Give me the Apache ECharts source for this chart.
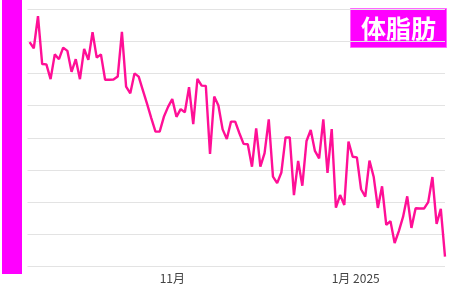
<!DOCTYPE html>
<html>
<head>
<meta charset="utf-8">
<script src="https://cdn.jsdelivr.net/npm/echarts@6/dist/echarts.min.js"></script>
<style>html,body{margin:0;padding:0;background:#fff}#c{width:450px;height:290px}</style>
</head>
<body>
<div id="c"></div>
<script>
const bodyFat = [
  26.97, 26.78, 27.78, 26.29, 26.28, 25.82, 26.59, 26.44, 26.80, 26.70,
  26.05, 26.44, 25.82, 26.76, 26.42, 27.28, 26.49, 26.59, 25.80, 25.80,
  25.81, 25.90, 27.29, 25.59, 25.38, 26.00, 25.90, 25.47, 25.05, 24.61,
  24.19, 24.19, 24.65, 24.96, 25.20, 24.65, 24.89, 24.79, 25.57, 24.42,
  25.83, 25.62, 25.61, 23.50, 25.28, 25.00, 24.26, 23.96, 24.50, 24.50,
  24.14, 23.81, 23.80, 23.10, 24.29, 23.10, 23.52, 24.57, 22.79, 22.59,
  22.92, 24.01, 24.01, 22.22, 23.28, 22.51, 23.90, 24.24, 23.59, 23.36,
  24.57, 22.91, 24.27, 21.83, 22.22, 21.91, 23.88, 23.41, 23.39, 22.40,
  22.17, 23.29, 22.79, 21.82, 22.49, 21.29, 21.41, 20.73, 21.10, 21.54,
  22.18, 21.20, 21.81, 21.80, 21.80, 22.00, 22.78, 21.32, 21.79, 20.31
];
const tickIndices = [31, 72];
const tickLabels = ['11月', '1月 2025'];
const yMin = 20, yMax = 28, yStep = 1;
const title = '体脂肪';

const points = bodyFat.map((v, i) => [i, v]);
const chart = echarts.init(document.getElementById('c'), null, {renderer: 'canvas'});
chart.setOption({
  animation: false,
  grid: {left: 27.5, right: 5, top: 9, bottom: 23.5, containLabel: false},
  xAxis: {
    type: 'value', min: -0.5, max: bodyFat.length - 1,
    axisLine: {show: false}, axisTick: {show: false}, splitLine: {show: false},
    axisLabel: {
      customValues: tickIndices,
      formatter: v => tickLabels[tickIndices.indexOf(Math.round(v))] || '',
      align: 'left', margin: 6, color: '#444', fontSize: 12,
      fontFamily: '"Noto Sans CJK JP", "Noto Sans", sans-serif'
    }
  },
  yAxis: {
    type: 'value', min: yMin, max: yMax, interval: yStep,
    axisLine: {show: false}, axisTick: {show: false}, axisLabel: {show: false},
    splitLine: {lineStyle: {color: '#e3e3e3', width: 1}}
  },
  series: [{
    type: 'line', data: points, symbol: 'none',
    lineStyle: {color: '#ff0f96', width: 2.4}, z: 3
  }],
  graphic: [
    {type: 'rect', left: 2, top: 0, shape: {width: 20, height: 274}, style: {fill: '#ff00ff'}, z: 10},
    {type: 'group', left: 350, top: 8, z: 10, children: [
      {type: 'rect', shape: {width: 96, height: 39}, style: {fill: '#ff00ff', stroke: '#ff66ff', lineWidth: 1}},
      {type: 'text', x: 48, y: 20, style: {text: title, fill: '#fff', font: 'bold 25px "Noto Sans CJK JP", sans-serif', align: 'center', verticalAlign: 'middle'}}
    ]}
  ]
});
</script>
</body>
</html>
